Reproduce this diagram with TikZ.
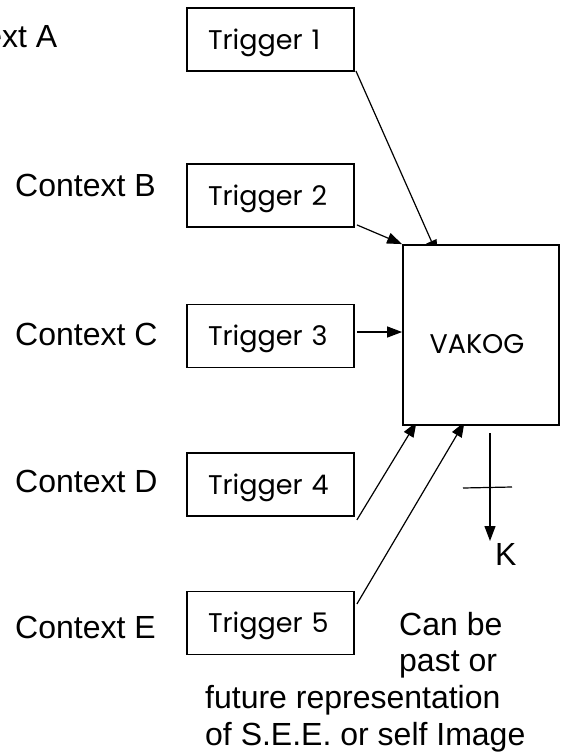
\documentclass[tikz,border=0pt]{standalone}
\usepackage{fontspec}
\setmainfont{Liberation Sans}
\newfontfamily\trigfam{Poppins}
\usetikzlibrary{arrows.meta,backgrounds,calc}
% geometric sans for the boxes, plain sans for the labels
\newcommand\trigfont{\trigfam\fontsize{27}{32}\selectfont}
\newcommand\labfont{\fontsize{32}{37}\selectfont}
\begin{document}
\begin{tikzpicture}[x=1pt,y=-1pt,
  trig/.style={draw, line width=1.8pt, fill=white, inner xsep=21pt, inner ysep=0pt,
    minimum width=167pt, minimum height=63pt, text width=125pt, align=left,
    text height=19pt, text depth=0pt, font=\trigfont},
  bigbox/.style={draw, line width=1.8pt, fill=white, inner sep=0pt,
    minimum width=156pt, minimum height=180pt, text height=36pt, text depth=0pt,
    font=\trigfont},
  ctx/.style={anchor=base west, inner sep=0pt, font=\labfont},
  link/.style={line width=1.2pt, -{Triangle[length=15pt,width=11pt]}},
  plain/.style={line width=1.2pt}]
\path[use as bounding box, clip] (0,0) rectangle (563,756);

% context labels
\node[ctx] (ca) at (-83.5,47) {Context A};
\node[ctx] (cb) at (15,196) {Context B};
\node[ctx] (cc) at (15,345) {Context C};
\node[ctx] (cd) at (15,492) {Context D};
\node[ctx] (ce) at (15,638) {Context E};

% trigger boxes
\node[trig] (t1) at (270.5,39.5) {Trigger 1};
\node[trig] (t2) at (270.5,195.5) {Trigger 2};
\node[trig] (t3) at (270.5,336) {Trigger 3};
\node[trig] (t4) at (270.5,484.5) {Trigger 4};
\node[trig] (t5) at (270.5,623) {Trigger 5};

% central box
\node[bigbox] (vakog) at (481,335) {\hspace*{-8pt}VAKOG};

% output and note
\node[ctx] (k) at (495,565) {K};
\node[ctx] (n1) at (399,635) {Can be};
\node[ctx] (n2) at (399,671) {past or};
\node[ctx] (n3) at (205,708) {future representation};
\node[ctx] (n4) at (205,745) {of S.E.E. or self Image};

\coordinate (t1tip) at (437.5,255);
\coordinate (t4tip) at (416.5,422);
\coordinate (t5tip) at (464.5,422);
\coordinate (t2s) at ($(t2.south east)+(2,-3)$);
\coordinate (t3s) at ($(t3.east)+(2,-4)$);
\coordinate (t5s) at ($(t5.east)+(2,-19)$);
\coordinate (kfrom) at (490,433);
\coordinate (kto) at (490,541);
\coordinate (barl) at (463,488);
\coordinate (barr) at (512,487);

\begin{pgfonlayer}{background}
\draw[link] ($(t1.south east)+(1,-1)$) -- (t1tip);
\draw[link] (t2s) -- (vakog.north west);
\draw[link] (t3s) -- (t3s -| vakog.west);
\draw[link] ($(t4.south east)+(2,3)$) -- (t4tip);
\draw[link] (t5s) -- (t5tip);
\draw[link] (kfrom) -- (kto);
\draw[plain] (barl) -- (barr);
\end{pgfonlayer}
\end{tikzpicture}
\end{document}
